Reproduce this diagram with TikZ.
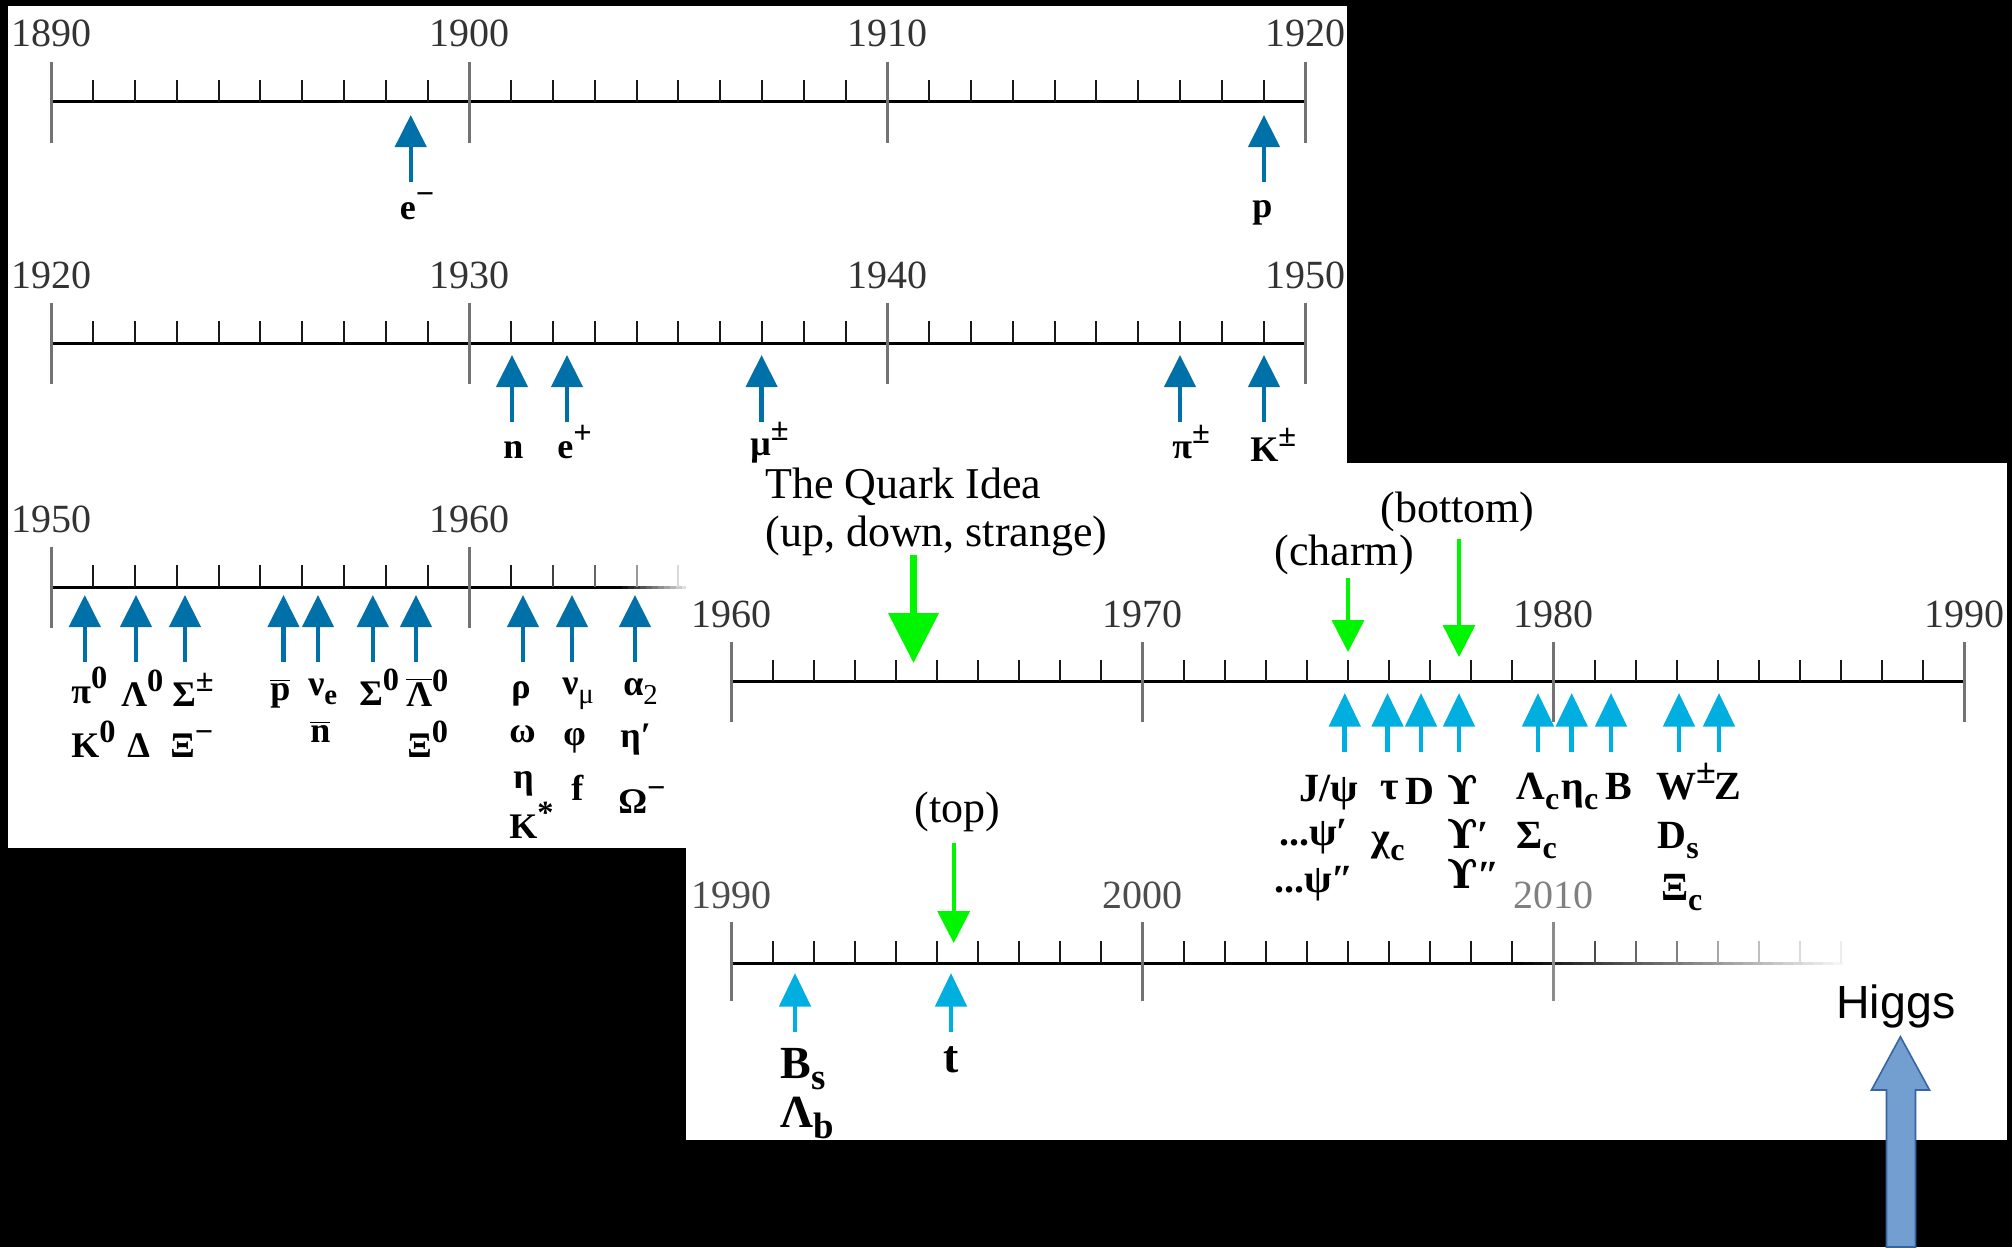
\documentclass[tikz,border=0pt]{standalone}
\usepackage{fontspec}
\usepackage{graphicx}
\setmainfont{Liberation Serif}
\newfontfamily\hsans{Liberation Sans}
\newfontfamily\dvserif{DejaVu Serif}
\usetikzlibrary{arrows.meta}
\definecolor{bluea}{RGB}{0,112,168}
\definecolor{blueb}{RGB}{0,174,224}
\definecolor{greena}{RGB}{0,245,0}
\definecolor{higgsfill}{RGB}{114,159,207}
\definecolor{higgsdraw}{RGB}{52,101,164}
\newcommand\Hsup[1]{\raisebox{0.40em}{\scalebox{0.9}{#1}}}
\newcommand\Hsub[1]{\raisebox{-0.26em}{\scalebox{0.8}{#1}}}
\newcommand\Ups{{\dvserif ϒ}}
\newcommand\Parr[5]{\coordinate (#1s) at (#3,#4); \coordinate (#1t) at (#3,#5); \draw[#2] (#1s) -- (#1t);}
\tikzset{
 yearlbl/.style={font=\fontsize{20}{24}\selectfont, text=black!80, inner sep=0, anchor=base},
 lblA/.style={font=\fontsize{18}{20}\selectfont\bfseries, inner sep=0, anchor=base west},
 lblB/.style={font=\fontsize{20}{22}\selectfont\bfseries, inner sep=0, anchor=base west},
 lblC/.style={font=\fontsize{23}{25}\selectfont\bfseries, inner sep=0, anchor=base west},
 ideatxt/.style={font=\fontsize{22}{24}\selectfont, text=black, inner sep=0, anchor=base west},
 axisln/.style={line width=1.5pt, black},
 majtick/.style={line width=1.5pt, black!55},
 mintick/.style={line width=1pt, black!90},
 arrA/.style={draw=bluea, line width=2.2pt, -{Triangle[length=16pt,width=15.5pt]}},
 arrB/.style={draw=blueb, line width=2.4pt, -{Triangle[length=16.8pt,width=15.5pt]}},
 grnbig/.style={draw=greena, line width=3.6pt, -{Triangle[length=25pt,width=24.5pt]}},
 grnsmall/.style={draw=greena, line width=1.8pt, -{Triangle[length=16pt,width=16pt]}},
}
\begin{document}
\begin{tikzpicture}[x=0.5pt,y=-0.5pt]
\useasboundingbox (0,0) rectangle (2012,1247);
\fill[black] (0,0) rectangle (2012,1247);
% ---------------- panel 1
\fill[white] (8,6) rectangle (1347,848);
\foreach \ry/\yr in {102/1890,343/1920}{
  \draw[axisln] (51.3,\ry) -- (1306,\ry);
  \foreach \k in {1,...,29}{\draw[mintick] (51.3+41.8*\k,\ry-22) -- (51.3+41.8*\k,\ry);}
  \foreach \k in {0,1,2,3}{
    \draw[majtick] (51.3+418*\k,\ry-40) -- (51.3+418*\k,\ry+41);
    \pgfmathtruncatemacro\yy{\yr+10*\k}
    \node[yearlbl] (yr\ry-\k) at (51.3+418*\k,\ry-55) {\yy};}
}
% row 3 (fading)
\draw[axisln] (51.3,587) -- (616,587);
\foreach \i in {0,...,11}{\pgfmathsetmacro\cc{100-\i*8}
  \draw[line width=1.5pt, black!\cc] (616+6*\i,587) -- (622+6*\i,587);}
\foreach \k in {1,...,9,11}{\draw[mintick] (51.3+41.8*\k,565) -- (51.3+41.8*\k,587);}
\foreach \k/\c in {12/75,13/60,14/40,15/15}{\draw[line width=1pt, black!\c] (51.3+41.8*\k,565) -- (51.3+41.8*\k,587);}
\draw[majtick] (51.3,547) -- (51.3,628);
\draw[majtick] (469.3,547) -- (469.3,628);
\node[yearlbl] (yr1950b) at (51.3,532) {1950};
\node[yearlbl] (yr1960a) at (469.3,532) {1960};
% arrows panel 1
\Parr{aE}{arrA}{410.7}{181.7}{115}
\Parr{aP}{arrA}{1264}{181.7}{115}
\foreach \n/\x in {aN/512,aEp/567,aMu/761.6,aPi/1180,aK/1264}{\Parr{\n}{arrA}{\x}{421.7}{355}}
\foreach \n/\x in {b1/84.8,b2/136,b3/185,b4/283.5,b5/318,b6/372.8,b7/416,b8/523,b9/572,b10/635}{\Parr{\n}{arrA}{\x}{661.7}{595}}
% labels panel 1
\node[lblA] (lE) at (399.5,219) {e\Hsup{−}};
\node[lblA] (lP) at (1252,217) {p};
\node[lblA] (lN) at (503,458) {n};
\node[lblA] (lEp) at (557,458) {e\Hsup{+}};
\node[lblA] (lMu) at (750,455) {μ\Hsup{±}};
\node[lblA] (lPi) at (1172,458) {π\Hsup{±}};
\node[lblA] (lK) at (1250,461) {K\Hsup{±}};
\node[lblA] (lPi0) at (71,703) {π\Hsup{0}};
\node[lblA] (lLa0) at (121,706) {Λ\Hsup{0}};
\node[lblA] (lSi) at (172,706) {Σ\Hsup{±}};
\node[lblA] (lK0) at (71,757) {K\Hsup{0}};
\node[lblA] (lDe) at (127,757) {Δ};
\node[lblA] (lXim) at (170,757) {Ξ\Hsup{−}};
\node[lblA] (lpb) at (270,700) {$\overline{\mbox{p}}$};
\node[lblA] (lnue) at (308,695) {ν\Hsub{e}};
\node[lblA] (lnb) at (310,742) {$\overline{\mbox{n}}$};
\node[lblA] (lSi0) at (359,705) {Σ\Hsup{0}};
\node[lblA] (lLab) at (406,706) {$\overline{\mbox{Λ}}$\Hsup{0}};
\node[lblA] (lXi0) at (407,757) {Ξ\Hsup{0}};
\node[lblA] (lrho) at (511,698) {ρ};
\node[lblA] (lome) at (509,742) {ω};
\node[lblA] (leta) at (513,788) {η};
\node[lblA] (lKs) at (509,838) {K\Hsup{*}};
\node[lblA] (lnum) at (562,694) {ν\Hsub{\mdseries μ}};
\node[lblA] (lphi) at (563,745) {φ};
\node[lblA] (lf) at (571,800) {f};
\node[lblA] (la2) at (623,695) {α\Hsub{\mdseries 2}};
\node[lblA] (letap) at (620,747) {η′};
\node[lblA] (lOm) at (618,813) {Ω\Hsup{−}};
% ---------------- panel 2
\fill[white] (686,463) rectangle (2007,1140);
\draw[axisln] (731.5,681) -- (1964.5,681);
\foreach \k in {1,...,29}{\draw[mintick] (731.5+41.1*\k,660) -- (731.5+41.1*\k,681);}
\foreach \k in {0,1,2,3}{
  \draw[majtick] (731.5+411*\k,642) -- (731.5+411*\k,722);
  \pgfmathtruncatemacro\yy{1960+10*\k}
  \node[yearlbl] (yrR4-\k) at (731.5+411*\k,627) {\yy};}
% row 5
\draw[axisln] (731.5,963) -- (1513,963);
\foreach \i in {0,...,32}{\pgfmathsetmacro\cc{100-\i*3}
  \draw[line width=1.5pt, black!\cc] (1513+10*\i,963) -- (1523+10*\i,963);}
\foreach \k in {1,...,19}{\draw[mintick] (731.5+41.1*\k,941) -- (731.5+41.1*\k,963);}
\foreach \k/\c in {21/70,22/60,23/50,24/35,25/25,26/15,27/7}{\draw[line width=1pt, black!\c] (731.5+41.1*\k,941) -- (731.5+41.1*\k,963);}
\draw[majtick] (731.5,922) -- (731.5,1001);
\draw[majtick] (1142.5,922) -- (1142.5,1001);
\draw[line width=1.5pt, black!45] (1553.5,922) -- (1553.5,1001);
\node[yearlbl, text=black!70] (yr1990b) at (731.5,908) {1990};
\node[yearlbl, text=black!70] (yr2000) at (1142.5,908) {2000};
\node[yearlbl, text=black!50] (yr2010) at (1553.5,908) {2010};
% green arrows and captions
\node[ideatxt] (qi1) at (765,498) {The Quark Idea};
\node[ideatxt] (qi2) at (765,546) {(up, down, strange)};
\node[ideatxt] (tcharm) at (1274,565) {(charm)};
\node[ideatxt] (tbottom) at (1380,522) {(bottom)};
\node[ideatxt] (ttop) at (914,822) {(top)};
\Parr{gQ}{grnbig}{913.5}{555}{663}
\Parr{gC}{grnsmall}{1348}{578}{652}
\Parr{gB}{grnsmall}{1459}{539}{657}
\Parr{gT}{grnsmall}{953.7}{843}{943}
% blue arrows panel 2
\foreach \n/\x in {c1/1344.8,c2/1387.5,c3/1421,c4/1459,c5/1538,c6/1571.7,c7/1611,c8/1679,c9/1719}{\Parr{\n}{arrB}{\x}{751.7}{693}}
\Parr{d1}{arrB}{795}{1031.7}{973}
\Parr{d2}{arrB}{951}{1031.7}{973}
% labels panel 2
\node[lblB] (mJ) at (1298.6,801) {J/ψ};
\node[lblB] (mtau) at (1380,799) {τ};
\node[lblB] (mD) at (1405.5,804) {D};
\node[lblB] (mU) at (1447,804) {\Ups};
\node[lblB] (mLc) at (1516,799) {Λ\Hsub{c}};
\node[lblB] (metac) at (1561,799) {η\Hsub{c}};
\node[lblB] (mB) at (1604.7,799) {B};
\node[lblB] (mW) at (1655.7,799) {W\Hsup{±}};
\node[lblB] (mZ) at (1714,799) {Z};
\node[lblB] (mpsi1) at (1279,845) {...ψ′};
\node[lblB] (mchi) at (1371.5,850) {χ\Hsub{c}};
\node[lblB] (mU1) at (1447,848) {\Ups′};
\node[lblB] (mSc) at (1516,848) {Σ\Hsub{c}};
\node[lblB] (mDs) at (1657,848) {D\Hsub{s}};
\node[lblB] (mpsi2) at (1274,892) {...ψ″};
\node[lblB] (mU2) at (1447,888) {\Ups″};
\node[lblB] (mXic) at (1660.6,900) {Ξ\Hsub{c}};
\node[lblC] (nBs) at (780,1078) {B\Hsub{s}};
\node[lblC] (nLb) at (780,1127) {Λ\Hsub{b}};
\node[lblC] (nt) at (943,1072) {t};
% Higgs
\node[font=\hsans\fontsize{23.25}{26}\selectfont, anchor=base west, inner sep=0] (higgs) at (1836,1018) {Higgs};
\coordinate (htip) at (1900.4,1036.7);
\filldraw[fill=higgsfill, draw=higgsdraw, line width=0.8pt] (htip) -- (1929.5,1090) -- (1915.5,1090) -- (1915.5,1247) -- (1886.5,1247) -- (1886.5,1090) -- (1871.5,1090) -- cycle;
\end{tikzpicture}
\end{document}
